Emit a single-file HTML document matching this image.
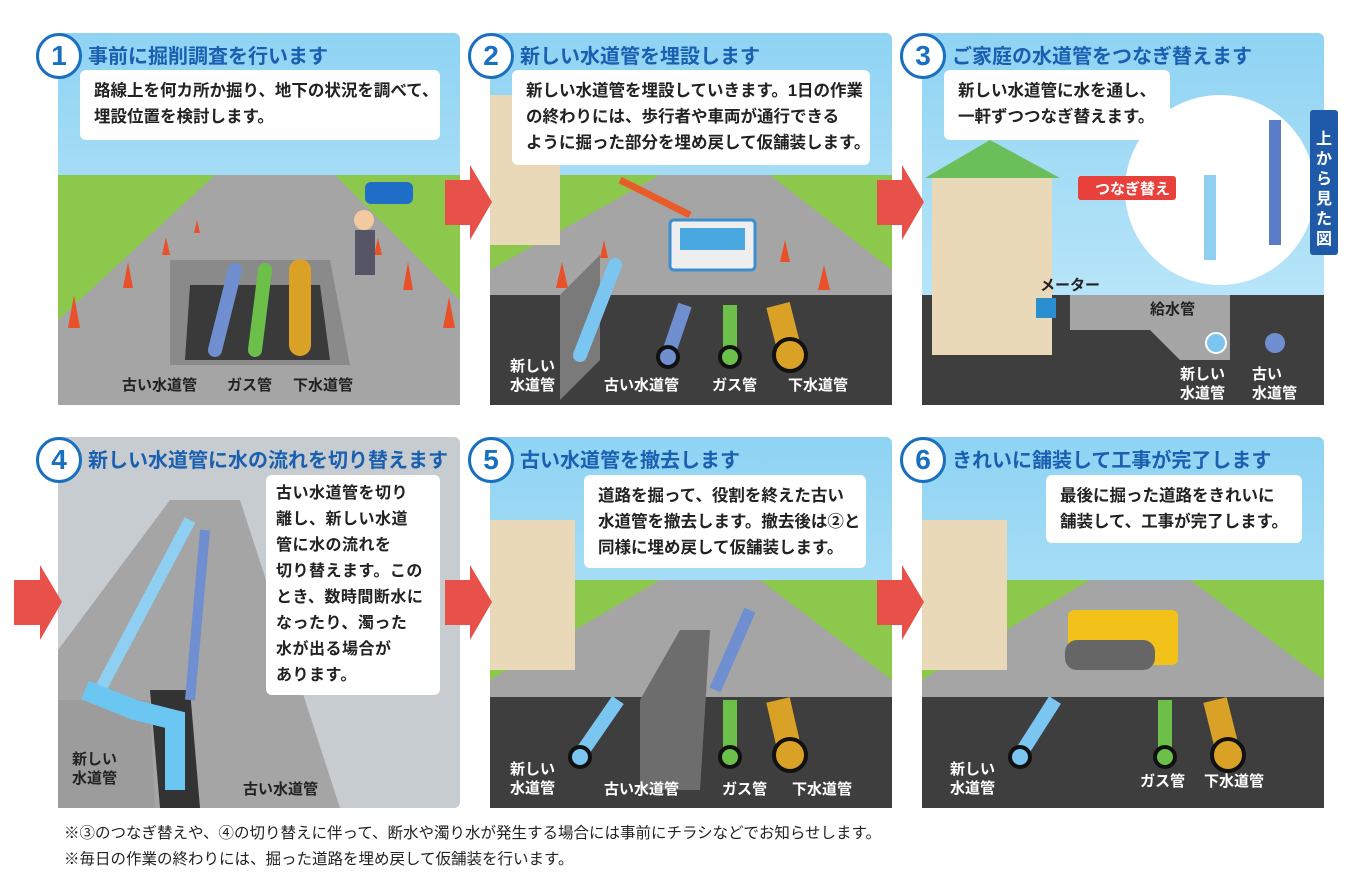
<!DOCTYPE html>
<html><head><meta charset="utf-8">
<style>
body{margin:0;width:1366px;height:896px;background:#fff;position:relative;overflow:hidden;font-family:"Liberation Sans","Noto Sans CJK JP",sans-serif;}
.a{position:absolute}
.t{position:absolute;font-weight:bold;color:#1a5fb0;font-size:20px;white-space:nowrap}
.n{position:absolute;width:40px;height:40px;border:3px solid #1a6fc0;border-radius:50%;background:#fff;color:#1a6fc0;font-weight:bold;font-size:28px;text-align:center;line-height:40px}
.b{position:absolute;background:#fff;border-radius:6px;font-weight:bold;font-size:16.5px;line-height:26px;color:#222;padding:8px 14px;box-sizing:border-box;white-space:nowrap}
.w{position:absolute;color:#fff;font-weight:bold;font-size:15px;line-height:19px}
.d{position:absolute;color:#222;font-weight:bold;font-size:15px;line-height:19px}
.foot{position:absolute;left:64px;font-size:15.5px;color:#222;white-space:nowrap}
</style></head><body>
<svg class="a" style="left:0;top:0" width="1366" height="896">
<defs>
<linearGradient id="sky" x1="0" y1="0" x2="0" y2="1"><stop offset="0" stop-color="#8fd3f3"/><stop offset="1" stop-color="#c8ecfa"/></linearGradient>
</defs>
<g>
<rect x="58" y="33" width="402" height="372" fill="url(#sky)" rx="6"/>
<rect x="58" y="175" width="402" height="230" fill="#8cc84b"/>
<polygon points="215,175 335,175 460,300 460,405 58,405 58,320" fill="#a5a5a5"/>
<polygon points="170,260 330,260 350,365 170,365" fill="#8a8a8a"/>
<polygon points="190,285 320,285 330,360 185,360" fill="#3a3a3a"/>
<line x1="215" y1="350" x2="235" y2="270" stroke="#6f8fd0" stroke-width="14" stroke-linecap="round"/>
<line x1="255" y1="350" x2="265" y2="270" stroke="#6cc04a" stroke-width="14" stroke-linecap="round"/>
<line x1="300" y1="345" x2="300" y2="270" stroke="#d9a227" stroke-width="22" stroke-linecap="round"/>
<g fill="#e8502a"><polygon points="80,328 68,328 74,295"/><polygon points="133,288 123,288 128,262"/><polygon points="170,255 162,255 166,237"/><polygon points="200,233 194,233 197,220"/><polygon points="413,290 403,290 408,262"/><polygon points="455,328 443,328 449,297"/><polygon points="382,255 374,255 378,238"/></g>
<rect x="365" y="182" width="48" height="22" rx="6" fill="#1f6fc8"/>
<rect x="355" y="230" width="20" height="45" fill="#556"/><circle cx="364" cy="220" r="10" fill="#f2c9a0"/>
</g>
<g>
<rect x="490" y="33" width="402" height="372" fill="url(#sky)" rx="6"/>
<rect x="490" y="175" width="402" height="130" fill="#8cc84b"/>
<polygon points="660,175 770,175 892,270 892,300 490,300 490,270" fill="#a5a5a5"/>
<rect x="490" y="295" width="402" height="110" fill="#3e3e3e"/>
<rect x="490" y="95" width="70" height="150" fill="#e9d9b8"/>
<polygon points="560,295 600,255 600,360 560,400" fill="#7a7a7a"/>
<rect x="670" y="220" width="85" height="50" rx="4" fill="#eee" stroke="#3b8fd0" stroke-width="3"/>
<rect x="680" y="228" width="65" height="22" fill="#4aa8e0"/>
<line x1="620" y1="180" x2="690" y2="215" stroke="#e85c2b" stroke-width="7"/>
<line x1="580" y1="355" x2="615" y2="265" stroke="#7ac6f0" stroke-width="14" stroke-linecap="round"/>
<line x1="668" y1="355" x2="685" y2="305" stroke="#6f8fd0" stroke-width="14"/><circle cx="668" cy="357" r="10" fill="#6f8fd0" stroke="#111" stroke-width="4"/>
<line x1="730" y1="355" x2="730" y2="305" stroke="#6cc04a" stroke-width="14"/><circle cx="730" cy="357" r="10" fill="#6cc04a" stroke="#111" stroke-width="4"/>
<line x1="790" y1="352" x2="778" y2="305" stroke="#d9a227" stroke-width="24"/><circle cx="790" cy="355" r="16" fill="#d9a227" stroke="#111" stroke-width="4"/>
<g fill="#e8502a"><polygon points="568,288 556,288 562,262"/><polygon points="608,258 600,258 604,240"/><polygon points="790,262 780,262 785,240"/><polygon points="830,290 818,290 824,265"/></g>
</g>
<g>
<rect x="922" y="33" width="402" height="372" fill="url(#sky)" rx="6"/>
<rect x="922" y="295" width="402" height="110" fill="#3e3e3e"/>
<polygon points="1070,295 1230,295 1230,360 1180,360 1150,330 1070,330" fill="#a5a5a5"/>
<rect x="932" y="175" width="120" height="180" fill="#e9d9b8"/>
<polygon points="925,178 990,140 1060,178" fill="#6bbf5a"/>
<rect x="1036" y="298" width="20" height="20" fill="#2a8fd0"/>
<circle cx="1220" cy="190" r="95" fill="#fff"/>
<line x1="1275" y1="120" x2="1275" y2="245" stroke="#5b7dc8" stroke-width="12"/>
<line x1="1210" y1="175" x2="1210" y2="260" stroke="#8fd0f2" stroke-width="12"/>
<rect x="1310" y="110" width="28" height="145" rx="3" fill="#1f5aa8"/>
<rect x="1078" y="176" width="98" height="24" rx="3" fill="#e8413c"/>
<circle cx="1216" cy="343" r="10" fill="#7ac6f0" stroke="#fff" stroke-width="2"/>
<circle cx="1275" cy="343" r="10" fill="#6f8fd0"/>
</g>
<g>
<rect x="58" y="437" width="402" height="371" fill="#c7ccd0" rx="6"/>
<polygon points="170,500 240,500 340,808 58,808 58,650" fill="#a5a5a5"/>
<polygon points="58,700 150,700 155,808 58,808" fill="#9c9c9c"/>
<polygon points="150,690 190,690 200,808 160,808" fill="#333"/>
<line x1="100" y1="690" x2="190" y2="520" stroke="#8fd0f2" stroke-width="12"/>
<line x1="190" y1="700" x2="205" y2="530" stroke="#6f8fd0" stroke-width="10"/>
<polyline points="85,690 135,710 175,720 175,790" fill="none" stroke="#6cc6f2" stroke-width="20"/>
</g>
<g>
<rect x="490" y="437" width="402" height="371" fill="url(#sky)" rx="6"/>
<rect x="490" y="580" width="402" height="120" fill="#8cc84b"/>
<polygon points="660,580 760,580 892,680 892,700 490,700 490,680" fill="#a5a5a5"/>
<rect x="490" y="697" width="402" height="111" fill="#3e3e3e"/>
<rect x="490" y="520" width="85" height="150" fill="#e9d9b8"/>
<polygon points="640,700 680,630 710,630 700,790 640,790" fill="#6d6d6d"/>
<line x1="580" y1="755" x2="618" y2="700" stroke="#7ac6f0" stroke-width="14"/><circle cx="580" cy="757" r="10" fill="#7ac6f0" stroke="#111" stroke-width="4"/>
<line x1="730" y1="755" x2="730" y2="700" stroke="#6cc04a" stroke-width="14"/><circle cx="730" cy="757" r="10" fill="#6cc04a" stroke="#111" stroke-width="4"/>
<line x1="790" y1="752" x2="778" y2="700" stroke="#d9a227" stroke-width="24"/><circle cx="790" cy="755" r="16" fill="#d9a227" stroke="#111" stroke-width="4"/>
<line x1="715" y1="690" x2="750" y2="610" stroke="#6f8fd0" stroke-width="12"/>
</g>
<g>
<rect x="922" y="437" width="402" height="371" fill="url(#sky)" rx="6"/>
<rect x="922" y="580" width="402" height="120" fill="#8cc84b"/>
<polygon points="1090,580 1190,580 1324,680 1324,700 922,700 922,680" fill="#a5a5a5"/>
<rect x="922" y="697" width="402" height="111" fill="#3e3e3e"/>
<rect x="922" y="520" width="85" height="150" fill="#e9d9b8"/>
<rect x="1068" y="610" width="110" height="55" rx="6" fill="#f2c21a"/>
<rect x="1065" y="640" width="90" height="30" rx="12" fill="#666"/>
<line x1="1020" y1="755" x2="1055" y2="700" stroke="#7ac6f0" stroke-width="14"/><circle cx="1020" cy="757" r="10" fill="#7ac6f0" stroke="#111" stroke-width="4"/>
<line x1="1165" y1="755" x2="1165" y2="700" stroke="#6cc04a" stroke-width="14"/><circle cx="1165" cy="757" r="10" fill="#6cc04a" stroke="#111" stroke-width="4"/>
<line x1="1228" y1="752" x2="1215" y2="700" stroke="#d9a227" stroke-width="24"/><circle cx="1228" cy="755" r="16" fill="#d9a227" stroke="#111" stroke-width="4"/>
</g>
<g fill="#e8504a">
<polygon points="445,180 470,180 470,165 492,202 470,240 470,225 445,225"/>
<polygon points="877,180 902,180 902,165 924,202 902,240 902,225 877,225"/>
<polygon points="14,580 40,580 40,565 62,602 40,640 40,625 14,625"/>
<polygon points="445,580 470,580 470,565 492,602 470,640 470,625 445,625"/>
<polygon points="877,580 902,580 902,565 924,602 902,640 902,625 877,625"/>
</g>
</svg>
<div class="n" style="left:36px;top:33px">1</div><div class="t" style="left:88px;top:40px">事前に掘削調査を行います</div>
<div class="n" style="left:468px;top:33px">2</div><div class="t" style="left:520px;top:40px">新しい水道管を埋設します</div>
<div class="n" style="left:900px;top:33px">3</div><div class="t" style="left:952px;top:40px">ご家庭の水道管をつなぎ替えます</div>
<div class="n" style="left:36px;top:437px">4</div><div class="t" style="left:88px;top:444px">新しい水道管に水の流れを切り替えます</div>
<div class="n" style="left:468px;top:437px">5</div><div class="t" style="left:520px;top:444px">古い水道管を撤去します</div>
<div class="n" style="left:900px;top:437px">6</div><div class="t" style="left:952px;top:444px">きれいに舗装して工事が完了します</div>
<div class="b" style="left:80px;top:70px;width:360px;height:70px">路線上を何カ所か掘り、地下の状況を調べて、<br>埋設位置を検討します。</div>
<div class="b" style="left:512px;top:70px;width:358px;height:95px">新しい水道管を埋設していきます。1日の作業<br>の終わりには、歩行者や車両が通行できる<br>ように掘った部分を埋め戻して仮舗装します。</div>
<div class="b" style="left:944px;top:70px;width:226px;height:70px">新しい水道管に水を通し、<br>一軒ずつつなぎ替えます。</div>
<div class="b" style="left:266px;top:475px;width:174px;height:220px;font-size:16px;letter-spacing:0.5px;padding:6px 10px">古い水道管を切り<br>離し、新しい水道<br>管に水の流れを<br>切り替えます。この<br>とき、数時間断水に<br>なったり、濁った<br>水が出る場合が<br>あります。</div>
<div class="b" style="left:584px;top:475px;width:282px;height:93px">道路を掘って、役割を終えた古い<br>水道管を撤去します。撤去後は②と<br>同様に埋め戻して仮舗装します。</div>
<div class="b" style="left:1046px;top:475px;width:256px;height:68px">最後に掘った道路をきれいに<br>舗装して、工事が完了します。</div>
<div class="d" style="left:122px;top:376px">古い水道管</div><div class="d" style="left:227px;top:376px">ガス管</div><div class="d" style="left:293px;top:376px">下水道管</div>
<div class="w" style="left:510px;top:357px">新しい<br>水道管</div><div class="w" style="left:604px;top:376px">古い水道管</div><div class="w" style="left:712px;top:376px">ガス管</div><div class="w" style="left:788px;top:376px">下水道管</div>
<div class="w" style="left:1095px;top:180px;font-size:15px">つなぎ替え</div>
<div class="w" style="left:1316px;top:130px;width:16px;font-size:16px;line-height:20px">上から見た図</div>
<div class="d" style="left:1040px;top:276px">メーター</div><div class="d" style="left:1150px;top:300px">給水管</div>
<div class="w" style="left:1180px;top:365px">新しい<br>水道管</div><div class="w" style="left:1252px;top:365px">古い<br>水道管</div>
<div class="d" style="left:72px;top:750px">新しい<br>水道管</div><div class="d" style="left:243px;top:780px">古い水道管</div>
<div class="w" style="left:510px;top:760px">新しい<br>水道管</div><div class="w" style="left:604px;top:780px">古い水道管</div><div class="w" style="left:722px;top:780px">ガス管</div><div class="w" style="left:792px;top:780px">下水道管</div>
<div class="w" style="left:950px;top:760px">新しい<br>水道管</div><div class="w" style="left:1140px;top:772px">ガス管</div><div class="w" style="left:1204px;top:772px">下水道管</div>
<div class="foot" style="top:821px">※③のつなぎ替えや、④の切り替えに伴って、断水や濁り水が発生する場合には事前にチラシなどでお知らせします。</div>
<div class="foot" style="top:847px">※毎日の作業の終わりには、掘った道路を埋め戻して仮舗装を行います。</div>
</body></html>
